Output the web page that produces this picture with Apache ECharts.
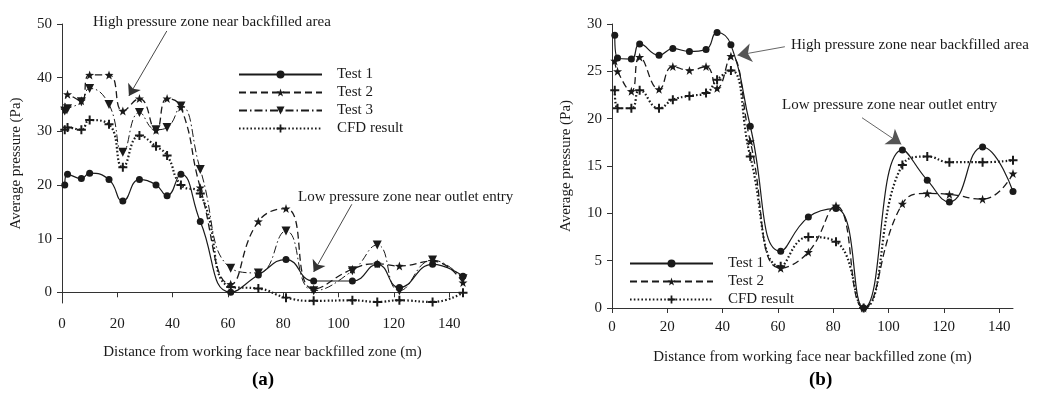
<!DOCTYPE html>
<html>
<head>
<meta charset="utf-8">
<script src="https://cdn.jsdelivr.net/npm/echarts@6/dist/echarts.min.js"></script>
<style>
  html, body { margin: 0; padding: 0; background: #fff; }
  #chart { width: 1038px; height: 400px; }
</style>
</head>
<body>
<div id="chart"></div>
<script>
// Measurement positions along the roadway (m)
const distA = [1, 2, 7, 10, 17, 22, 28, 34, 38, 43, 50, 61, 71, 81, 91, 105, 114, 122, 134, 145];
const distB = [1, 2, 7, 10, 17, 22, 28, 34, 38, 43, 50, 61, 71, 81, 91, 105, 114, 122, 134, 145];

// Panel (a): average pressure (Pa)
const aTest1 = [20.0, 22.0, 21.2, 22.2, 21.0, 17.0, 21.0, 20.0, 18.0, 22.0, 13.2, 0.0, 3.2, 6.1, 2.1, 2.1, 5.2, 0.9, 5.2, 3.0];
const aTest2 = [34.0, 36.9, 35.7, 40.5, 40.5, 33.8, 36.1, 30.2, 36.1, 34.5, 19.5, 1.5, 13.2, 15.6, 0.6, 4.3, 5.3, 4.9, 5.8, 1.8];
const aTest3 = [33.8, 34.2, 35.5, 38.0, 35.0, 26.1, 33.5, 30.3, 30.7, 34.7, 22.9, 4.5, 3.6, 11.4, 0.3, 4.0, 8.8, 0.3, 6.0, 2.5];
const aCFD   = [30.3, 30.7, 30.3, 32.1, 31.3, 23.3, 29.2, 27.2, 25.5, 20.0, 18.4, 1.0, 0.7, -1.0, -1.6, -1.5, -1.8, -1.5, -1.8, -0.1];

// Panel (b): average pressure (Pa)
const bTest1 = [28.8, 26.4, 26.3, 27.9, 26.7, 27.4, 27.1, 27.3, 29.1, 27.8, 19.2, 6.0, 9.6, 10.5, 0.0, 16.7, 13.5, 11.2, 17.0, 12.3];
const bTest2 = [26.1, 25.0, 22.9, 26.5, 23.1, 25.5, 25.1, 25.5, 23.2, 26.6, 17.6, 4.2, 5.9, 10.8, 0.0, 11.0, 12.1, 12.0, 11.5, 14.2];
const bCFD   = [23.0, 21.1, 21.1, 23.0, 21.1, 22.0, 22.4, 22.7, 24.1, 25.1, 16.0, 4.4, 7.5, 7.0, 0.0, 15.1, 16.0, 15.4, 15.4, 15.6];

// Axis tick labels
const xTicks = [0, 20, 40, 60, 80, 100, 120, 140];
const yTicksA = [0, 10, 20, 30, 40, 50];
const yTicksB = [0, 5, 10, 15, 20, 25, 30];

const FONT = '"Liberation Serif", "DejaVu Serif", serif';
const FS = 15;
const INK = '#1a1a1a';

const STAR = 'path://M0,-10 L2.35,-3.24 L9.51,-3.09 L3.8,1.24 L5.88,8.09 L0,4 L-5.88,8.09 L-3.8,1.24 L-9.51,-3.09 L-2.35,-3.24 Z';
const PLUS = 'path://M-1.1,-5 H1.1 V-1.1 H5 V1.1 H1.1 V5 H-1.1 V1.1 H-5 V-1.1 H-1.1 Z';
const TRI_DOWN = 'path://M-5,-4 L5,-4 L0,5 Z';

const pairs = (xs, ys) => xs.map((x, i) => [x, ys[i]]);

function xAxisFor(gridIndex, labelMargin) {
  return {
    type: 'value', gridIndex, min: 0, max: 145,
    name: 'Distance from working face near backfilled zone (m)',
    nameLocation: 'middle', nameGap: 42,
    nameTextStyle: { fontFamily: FONT, fontSize: FS, color: INK },
    axisLine: { show: true, lineStyle: { color: '#333', width: 1 } },
    axisTick: { show: true, inside: false, length: 5, lineStyle: { color: '#333' }, customValues: xTicks },
    axisLabel: { fontFamily: FONT, fontSize: FS, color: INK, margin: labelMargin, customValues: xTicks },
    splitLine: { show: false }
  };
}

function yAxisFor(gridIndex, min, max, ticks, nameGap) {
  return {
    type: 'value', gridIndex, min, max,
    name: 'Average pressure (Pa)',
    nameLocation: 'middle', nameGap, nameRotate: 90,
    nameTextStyle: { fontFamily: FONT, fontSize: FS, color: INK },
    axisLine: { show: true, lineStyle: { color: '#333', width: 1 } },
    axisTick: { show: true, inside: false, length: 5, lineStyle: { color: '#333' }, customValues: ticks },
    axisLabel: { fontFamily: FONT, fontSize: FS, color: INK, margin: 10, customValues: ticks },
    splitLine: { show: false }
  };
}

function lineSeries(name, data, axisIdx, symbol, size, lineType, width) {
  return {
    type: 'line', name, data, xAxisIndex: axisIdx, yAxisIndex: axisIdx,
    smooth: 0.5, symbol, symbolSize: size, showSymbol: true,
    itemStyle: { color: INK, borderWidth: 0 },
    lineStyle: { color: INK, width, type: lineType },
    animation: false, z: 3
  };
}

function arrow(from, to, color, size) {
  return {
    silent: true, animation: false,
    symbol: ['none', 'arrow'], symbolSize: size,
    label: { show: false },
    lineStyle: { color, width: 0.9, type: 'solid' },
    emphasis: { disabled: true },
    data: [[{ coord: from }, { coord: to }]]
  };
}

const sA1 = lineSeries('Test 1', pairs(distA, aTest1), 0, 'circle', 7, 'solid', 1.2);
const sA2 = lineSeries('Test 2', pairs(distA, aTest2), 0, STAR, 9, [7, 4], 1.3);
const sA3 = lineSeries('Test 3', pairs(distA, aTest3), 0, TRI_DOWN, 9, [8, 3, 1.5, 3], 1);
const sA4 = lineSeries('CFD result', pairs(distA, aCFD), 0, PLUS, 9, [1.6, 2.2], 2.2);
sA1.markLine = arrow([37.9, 48.7], [24.2, 36.6], '#333', 11);
sA2.markLine = arrow([104.8, 16.4], [91.0, 3.8], '#333', 11);

const sB1 = lineSeries('Test 1', pairs(distB, bTest1), 1, 'circle', 7, 'solid', 1.2);
const sB2 = lineSeries('Test 2', pairs(distB, bTest2), 1, STAR, 9, [7, 4], 1.3);
const sB4 = lineSeries('CFD result', pairs(distB, bCFD), 1, PLUS, 9, [1.6, 2.2], 2.2);
sB1.markLine = arrow([62.5, 27.6], [45.4, 26.7], '#555', 14);
sB2.markLine = arrow([90.4, 20.1], [104.6, 17.3], '#555', 14);
sB1.markLine.itemStyle = { color: '#8a8a8a', borderColor: '#222', borderWidth: 0.8 };
sB2.markLine.itemStyle = { color: '#8a8a8a', borderColor: '#222', borderWidth: 0.8 };

function legendFor(left, top, names) {
  return {
    orient: 'vertical', left, top, data: names,
    itemWidth: 83, itemHeight: 10, itemGap: 3,
    textStyle: { fontFamily: FONT, fontSize: FS, color: INK, padding: [0, 0, 0, 10] },
    selectedMode: false, inactiveColor: INK
  };
}

const chart = echarts.init(document.getElementById('chart'), null, { renderer: 'canvas' });
chart.setOption({
  backgroundColor: '#fff',
  animation: false,
  grid: [
    { left: 62, top: 24, width: 401, height: 279 },
    { left: 612, top: 24, width: 401, height: 284 }
  ],
  xAxis: [xAxisFor(0, 14), xAxisFor(1, 12)],
  yAxis: [yAxisFor(0, -2, 50, yTicksA, 38), yAxisFor(1, 0, 30, yTicksB, 38)],
  legend: [
    legendFor(233, 62, ['Test 1', 'Test 2', 'Test 3', 'CFD result']),
    legendFor(624, 251, ['Test 1', 'Test 2', 'CFD result'])
  ],
  series: [sA1, sA2, sA3, sA4, sB1, sB2, sB4],
  graphic: [
    { type: 'text', left: 93, top: 15, style: { text: 'High pressure zone near backfilled area', font: FS + 'px ' + FONT, fill: INK } },
    { type: 'text', left: 298, top: 190, style: { text: 'Low pressure zone near outlet entry', font: FS + 'px ' + FONT, fill: INK } },
    { type: 'text', left: 791, top: 38, style: { text: 'High pressure zone near backfilled area', font: FS + 'px ' + FONT, fill: INK } },
    { type: 'text', left: 782, top: 98, style: { text: 'Low pressure zone near outlet entry', font: FS + 'px ' + FONT, fill: INK } },
    { type: 'text', left: 252, top: 371, style: { text: '(a)', font: 'bold 19px ' + FONT, fill: '#000' } },
    { type: 'text', left: 809, top: 371, style: { text: '(b)', font: 'bold 19px ' + FONT, fill: '#000' } }
  ]
});
</script>
</body>
</html>
